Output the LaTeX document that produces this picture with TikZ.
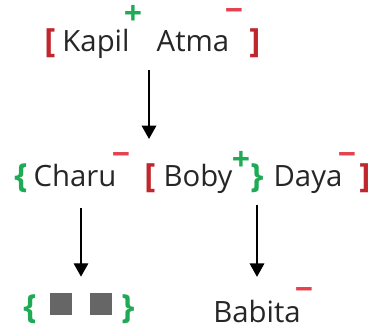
\documentclass[tikz,border=0pt]{standalone}
\usepackage{fontspec}
\setmainfont{Open Sans}
\usetikzlibrary{positioning,arrows.meta,calc}
\definecolor{brred}{HTML}{C0272D}
\definecolor{sgred}{HTML}{E8414E}
\definecolor{brgreen}{HTML}{1FAA55}
\definecolor{boxgray}{HTML}{666666}

\begin{document}
\begin{tikzpicture}[
      x=0.75pt, y=-0.75pt, % pixel grid of the sketch
      person/.style={inner sep=0pt, anchor=base, font=\fontsize{22}{26}\selectfont, text=black!85},
      redbr/.style={inner sep=0pt, anchor=base, font=\fontsize{25}{30}\selectfont\bfseries, text=brred},
      grnbr/.style={inner sep=0pt, anchor=base, font=\fontsize{25}{30}\selectfont\bfseries, text=brgreen},
      plussign/.style={inner sep=0pt, font=\fontsize{24}{28}\selectfont\bfseries, text=brgreen},
      minussign/.style={inner sep=0pt, font=\fontsize{24}{28}\selectfont\bfseries, text=sgred},
      hole/.style={fill=boxgray, minimum size=16pt, inner sep=0pt},
      line/.style={draw, line width=0.9pt, -{Triangle[width=11pt, length=10pt]}}
  ]
      \useasboundingbox (0,0) rectangle (373,328);

      % Top list
      \node (lbrA) [redbr] at (50,52) {[};
      \node (kapil) [person] at (96,51) {Kapil};
      \node (kapilS) [plussign] at (133,15) {+};
      \node (atma) [person] at (193,51) {Atma};
      \node (atmaS) [minussign] at (234,15) {−};
      \node (rbrA) [redbr] at (255,52) {]};

      % Middle list
      \node (lbrC) [grnbr] at (21,187) {\{};
      \node (charu) [person] at (75,186) {Charu};
      \node (charuS) [minussign] at (121,159) {−};
      \node (lbrB) [redbr] at (150,187) {[};
      \node (boby) [person] at (198,186) {Boby};
      \node (bobyS) [plussign] at (241,161) {+};
      \node (rbrC) [grnbr] at (257,187) {\}};
      \node (daya) [person] at (308,186) {Daya};
      \node (dayaS) [minussign] at (347,159) {−};
      \node (rbrB) [redbr] at (365,187) {]};

      % Bottom
      \node (lbrE) [grnbr] at (30,318) {\{};
      \node (hole1) [hole] at (61,304) {};
      \node (hole2) [hole] at (101,304) {};
      \node (rbrE) [grnbr] at (128,318) {\}};
      \node (babita) [person] at (257,322) {Babita};
      \node (babitaS) [minussign] at (304,294) {−};

      % Arrows
      \coordinate (split) at (149,70);
      \coordinate (empty) at (81,208);
      \path [line, shorten >=18pt] (split) -- (split |- lbrB.north);
      \path [line, shorten >=13pt] (empty) -- (empty |- lbrE.north);
      \path [line, shorten <=9pt, shorten >=17pt] (rbrC.south) -- (babita.north);
  \end{tikzpicture}
\end{document}
